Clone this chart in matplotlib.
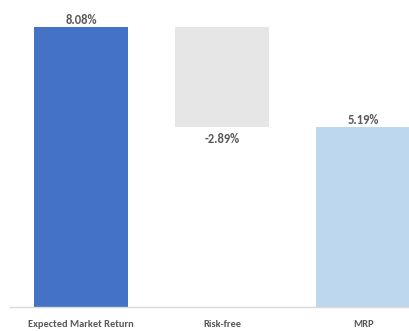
import matplotlib.pyplot as plt

# Waterfall: market return minus risk-free gives the market risk premium
categories = ['Expected Market Return', 'Risk-free', 'MRP']
values = [8.08, -2.89, 5.19]
colors = ['#4472C4', '#E7E6E6', '#BDD7EE']

plt.rcParams['font.family'] = ['Carlito', 'DejaVu Sans']

# Bottoms for floating bars
bottoms = [0, values[0] + values[1], 0]
heights = [values[0], -values[1], values[2]]

fig = plt.figure(figsize=(4.09, 3.31), dpi=100)
W, H = 409, 331
ax = fig.add_axes([10.4 / W, (H - 307) / H, 423.6 / W, 301.5 / H])

x = range(len(categories))
ax.bar(x, heights, bottom=bottoms, width=0.666, color=colors)

ax.set_xlim(-0.5, 2.5)
ax.set_ylim(0, 8.7)

for s in ['top', 'right', 'left']:
    ax.spines[s].set_visible(False)
ax.spines['bottom'].set_color('#D9D9D9')
ax.spines['bottom'].set_linewidth(1)
ax.set_yticks([])
ax.set_xticks(list(x))
ax.set_xticklabels(categories, fontsize=7.5, fontweight='bold', color='#595959')
ax.tick_params(axis='x', length=0, pad=9.5)

# Value labels
txt = dict(fontsize=9, fontweight='bold', color='#595959', ha='center')
ax.annotate(f'{values[0]:.2f}%', (0, values[0]), xytext=(0, 2),
            textcoords='offset points', va='baseline', **txt)
ax.annotate(f'{values[1]:.2f}%', (1, bottoms[1]), xytext=(0, -11.5),
            textcoords='offset points', va='baseline', **txt)
ax.annotate(f'{values[2]:.2f}%', (2, values[2]), xytext=(0, 2.2),
            textcoords='offset points', va='baseline', **txt)

fig.savefig('out.png', dpi=100)
